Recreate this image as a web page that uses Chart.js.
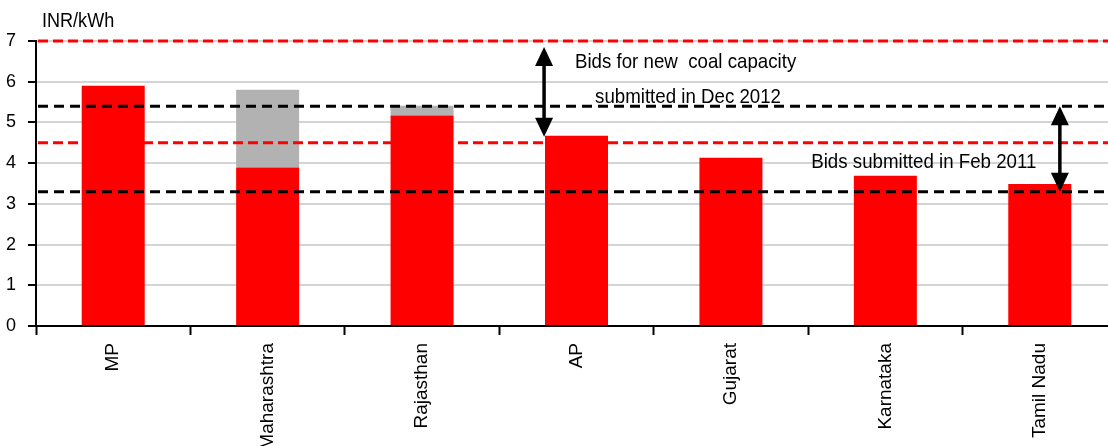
<!DOCTYPE html>
<html>
<head>
<meta charset="utf-8">
<script src="https://cdn.jsdelivr.net/npm/chart.js@4/dist/chart.umd.min.js"></script>
<style>
  html, body { margin: 0; padding: 0; background: #fff; overflow: hidden; }
  #wrap { width: 1117px; height: 446px; }
</style>
</head>
<body>
<div id="wrap"><canvas id="chart" width="1117" height="446"></canvas></div>
<script>
// Tariff by state, INR/kWh
const categories = ["MP", "Maharashtra", "Rajasthan", "AP", "Gujarat", "Karnataka", "Tamil Nadu"]
const baseValues = [5.9, 3.89, 5.17, 4.67, 4.13, 3.69, 3.49]
const extraValues = [0, 1.91, 0.24, 0, 0, 0, 0]
const yMax = 7

// Reference levels (dashed lines)
const redLevels = [7.0, 4.5]
const blackLevels = [5.4, 3.3]

// Double arrows: category position and value range
const arrowX = [2.79, 6.13]
const arrowTop = [6.85, 5.4]
const arrowBottom = [4.65, 3.3]

// Notes anchored in data coordinates
const noteText = ["Bids for new  coal capacity", "submitted in Dec 2012", "Bids submitted in Feb 2011"]
const noteX = [2.99, 3.12, 4.52]
const noteY = [6.47, 5.61, 4.03]

const FONT = "'Liberation Sans', Arial, sans-serif"

// Рисуем пунктирные уровни, стрелки и подписи поверх столбцов
const overlay = {
  id: "overlay",
  afterDatasetsDraw(chart) {
    const { ctx, chartArea, scales: { x, y } } = chart

    const dashed = (levels, color, dash) => {
      levels.forEach(v => {
        const py = y.getPixelForValue(v)
        ctx.save()
        ctx.strokeStyle = color
        ctx.lineWidth = 3
        ctx.setLineDash(dash)
        ctx.beginPath()
        ctx.moveTo(chartArea.left + 2, py)
        ctx.lineTo(chartArea.right, py)
        ctx.stroke()
        ctx.restore()
      })
    }
    dashed(redLevels, "#ff0000", [10, 5])
    dashed(blackLevels, "#000000", [10, 6])

    arrowX.forEach((ax, i) => {
      const px = x.getPixelForValue(ax)
      const top = y.getPixelForValue(arrowTop[i])
      const bot = y.getPixelForValue(arrowBottom[i])
      const head = 19, half = 9
      ctx.save()
      ctx.strokeStyle = "#000"
      ctx.fillStyle = "#000"
      ctx.lineWidth = 3.5
      ctx.beginPath()
      ctx.moveTo(px, top + head - 2)
      ctx.lineTo(px, bot - head + 2)
      ctx.stroke()
      ctx.beginPath()
      ctx.moveTo(px, top)
      ctx.lineTo(px - half, top + head)
      ctx.lineTo(px + half, top + head)
      ctx.closePath()
      ctx.fill()
      ctx.beginPath()
      ctx.moveTo(px, bot)
      ctx.lineTo(px - half, bot - head)
      ctx.lineTo(px + half, bot - head)
      ctx.closePath()
      ctx.fill()
      ctx.restore()
    })

    noteText.forEach((t, i) => {
      const px = x.getPixelForValue(noteX[i])
      const py = y.getPixelForValue(noteY[i])
      ctx.save()
      ctx.fillStyle = "#000"
      ctx.font = "21px " + FONT
      ctx.textBaseline = "middle"
      ctx.textAlign = "left"
      ctx.translate(px, py)
      ctx.scale(0.89, 1)
      ctx.fillText(t, 0, 0)
      ctx.restore()
    })

    // подпись оси Y
    ctx.save()
    ctx.fillStyle = "#000"
    ctx.font = "21px " + FONT
    ctx.textBaseline = "middle"
    ctx.translate(chartArea.left + 6, chartArea.top - 20)
    ctx.scale(0.86, 1)
    ctx.fillText("INR/kWh", 0, 0)
    ctx.restore()
  }
}

new Chart(document.getElementById("chart"), {
  type: "bar",
  data: {
    labels: categories,
    datasets: [
      {
        label: "Tariff",
        data: baseValues,
        backgroundColor: "#ff0000",
        categoryPercentage: 1,
        barPercentage: 0.408
      },
      {
        label: "Additional",
        data: extraValues,
        backgroundColor: "#b2b2b2",
        categoryPercentage: 1,
        barPercentage: 0.408
      }
    ]
  },
  options: {
    responsive: false,
    animation: false,
    devicePixelRatio: 1,
    layout: { padding: { top: 41, right: 0, left: 0, bottom: 0 } },
    plugins: {
      legend: { display: false },
      tooltip: { enabled: false }
    },
    scales: {
      x: {
        stacked: true,
        afterFit: (scale) => { scale.height = 120 },
        border: { color: "#000", width: 2 },
        grid: {
          drawOnChartArea: false,
          drawTicks: true,
          tickLength: 9,
          tickColor: "#000",
          tickWidth: 2,
          offset: true
        },
        ticks: {
          autoSkip: false,
          minRotation: 90,
          maxRotation: 90,
          padding: 8,
          color: "#000",
          font: { family: FONT, size: 19 }
        }
      },
      y: {
        stacked: true,
        min: 0,
        max: yMax,
        afterFit: (scale) => { scale.width = 36 },
        border: { color: "#000", width: 2 },
        grid: {
          color: "#d4d4d4",
          lineWidth: 2,
          tickColor: "#000",
          tickLength: 8,
          tickWidth: 2
        },
        ticks: {
          stepSize: 1,
          padding: 12,
          color: "#000",
          font: { family: FONT, size: 18 }
        }
      }
    }
  },
  plugins: [overlay]
})
</script>
</body>
</html>
